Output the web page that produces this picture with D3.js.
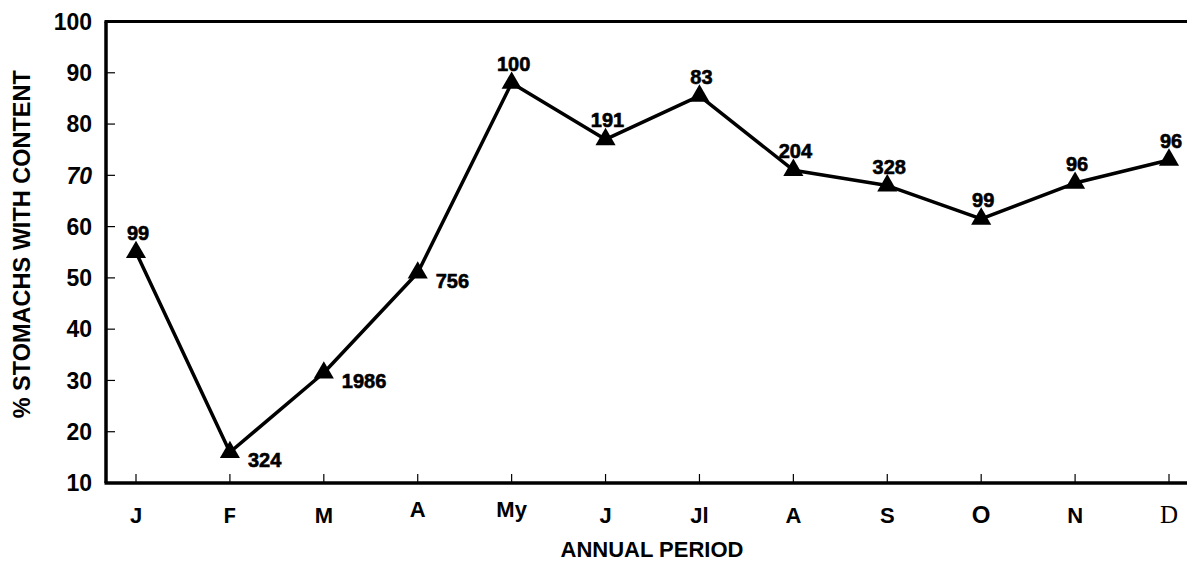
<!DOCTYPE html>
<html>
<head>
<meta charset="utf-8">
<script src="https://cdn.jsdelivr.net/npm/d3@7"></script>
<style>
  html, body { margin: 0; padding: 0; background: #fff; }
  svg { display: block; }
  text { font-family: "Liberation Sans", Arial, sans-serif; fill: #000; }
</style>
</head>
<body>
<svg id="chart" width="1187" height="561"></svg>
<script>
// ---- data ----
const months = ["J", "F", "M", "A", "My", "J", "Jl", "A", "S", "O", "N", "D"];
const pctWithContent = [55, 16, 31.5, 51, 88, 77, 85.5, 71, 68, 61.5, 68.5, 73];
const sampleSizes = ["99", "324", "1986", "756", "100", "191", "83", "204", "328", "99", "96", "96"];
const yTickValues = [10, 20, 30, 40, 50, 60, 70, 80, 90, 100];
const yTitle = "% STOMACHS WITH CONTENT";
const xTitle = "ANNUAL PERIOD";

// ---- layout ----
const W = 1187, H = 561;
const plotLeft = 106, plotTop = 21.5, plotBottom = 483;
const svg = d3.select("#chart");

const x = d3.scalePoint().domain(d3.range(months.length)).range([136, 1169]);
const y = d3.scaleLinear().domain([10, 100]).range([plotBottom, plotTop]);

// frame: left axis, top line, bottom axis
svg.append("line").attr("x1", plotLeft).attr("x2", plotLeft).attr("y1", plotTop).attr("y2", plotBottom)
  .attr("stroke", "#000").attr("stroke-width", 3.5);
svg.append("line").attr("x1", plotLeft - 1.5).attr("x2", W).attr("y1", plotTop).attr("y2", plotTop)
  .attr("stroke", "#000").attr("stroke-width", 3);
svg.append("line").attr("x1", plotLeft - 1.5).attr("x2", W).attr("y1", plotBottom).attr("y2", plotBottom)
  .attr("stroke", "#000").attr("stroke-width", 3.5);

// y ticks
const yTicks = svg.append("g");
yTicks.selectAll("line").data(yTickValues.filter(v => v > 10 && v < 100)).join("line")
  .attr("x1", plotLeft).attr("x2", plotLeft + 9)
  .attr("y1", d => y(d)).attr("y2", d => y(d))
  .attr("stroke", "#000").attr("stroke-width", 1.2);
yTicks.selectAll("text").data(yTickValues).join("text")
  .attr("x", 92).attr("y", d => y(d))
  .attr("dy", "0.36em")
  .attr("text-anchor", "end")
  .attr("font-size", 23).attr("font-weight", "bold")
  .attr("font-style", d => d === 70 ? "italic" : "normal")
  .text(d => d);

// x ticks
const xTicks = svg.append("g");
xTicks.selectAll("line").data(months).join("line")
  .attr("x1", (d, i) => x(i)).attr("x2", (d, i) => x(i))
  .attr("y1", plotBottom).attr("y2", plotBottom - 9)
  .attr("stroke", "#000").attr("stroke-width", 1.2);
xTicks.selectAll("text").data(months).join("text")
  .attr("x", (d, i) => x(i))
  .attr("y", (d, i) => (i === 3 || i === 4) ? 517 : 523)
  .attr("text-anchor", "middle")
  .attr("font-size", (d, i) => i === 11 ? 25 : (i === 9 ? 24 : 22))
  .attr("font-weight", (d, i) => i === 11 ? "normal" : "bold")
  .style("font-family", (d, i) => i === 1 ? "'Liberation Mono', monospace" : (i === 11 ? "'Liberation Serif', serif" : null))
  .text(d => d);

// axis titles
svg.append("text")
  .attr("x", 652).attr("y", 557)
  .attr("text-anchor", "middle")
  .attr("font-size", 22).attr("font-weight", "bold")
  .text(xTitle);
svg.append("text")
  .attr("transform", `translate(30, ${(plotTop + plotBottom) / 2 - 8}) rotate(-90)`)
  .attr("text-anchor", "middle")
  .attr("font-size", 23.5).attr("font-weight", "bold")
  .text(yTitle);

// line
const line = d3.line().x((d, i) => x(i)).y(d => y(d));
svg.append("path").datum(pctWithContent)
  .attr("d", line)
  .attr("fill", "none").attr("stroke", "#000").attr("stroke-width", 3.5)
  .attr("stroke-linejoin", "round");

// markers
const tri = d3.symbol().type(d3.symbolTriangle).size(175);
svg.append("g").selectAll("path").data(pctWithContent).join("path")
  .attr("transform", (d, i) => `translate(${x(i)},${y(d)})`)
  .attr("d", tri)
  .attr("fill", "#000");

// sample-size labels
const rightLabeled = new Set([1, 2, 3]);
svg.append("g").selectAll("text").data(sampleSizes).join("text")
  .attr("x", (d, i) => rightLabeled.has(i) ? x(i) + 18 : x(i) + 2)
  .attr("y", (d, i) => rightLabeled.has(i) ? y(pctWithContent[i]) + 15 : y(pctWithContent[i]) - 12)
  .attr("text-anchor", (d, i) => rightLabeled.has(i) ? "start" : "middle")
  .attr("font-size", 20).attr("font-weight", "bold")
  .attr("stroke", "#000").attr("stroke-width", 0.6)
  .text(d => d);
</script>
</body>
</html>
